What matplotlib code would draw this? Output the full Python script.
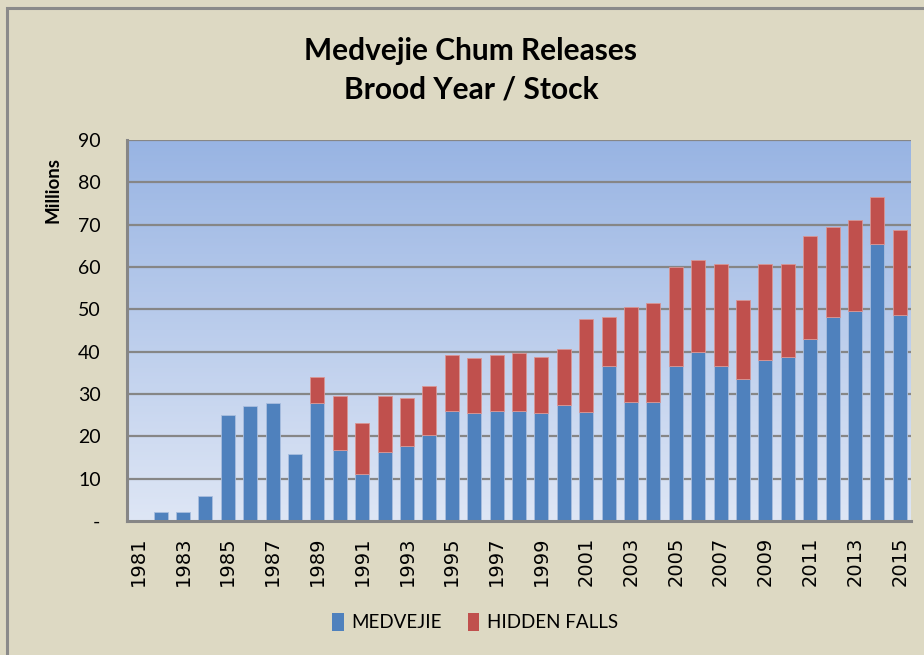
import numpy as np
import matplotlib.pyplot as plt
from matplotlib.colors import LinearSegmentedColormap
from matplotlib.patches import Rectangle

# dados (milhoes)
years = list(range(1981, 2016))
medvejie = [0, 2.2, 2.2, 5.8, 25.0, 27.2, 27.9, 15.9, 27.9, 16.7,
            11.2, 16.3, 17.6, 20.3, 26.1, 25.6, 26.1, 26.1, 25.6, 27.5,
            25.8, 36.5, 28.2, 28.2, 36.5, 39.9, 36.7, 33.6, 38.1, 38.8,
            43.1, 48.2, 49.5, 65.4, 48.7]
totals = [0, 2.2, 2.2, 5.8, 25.0, 27.2, 27.9, 15.9, 34.0, 29.6,
          23.1, 29.6, 29.0, 31.9, 39.3, 38.5, 39.1, 39.6, 38.8, 40.7,
          47.6, 48.2, 50.5, 51.6, 59.9, 61.7, 60.6, 52.1, 60.6, 60.6,
          67.3, 69.4, 71.0, 76.6, 68.8]
hidden_falls = [round(t - m, 1) for t, m in zip(totals, medvejie)]
yticks = [0, 10, 20, 30, 40, 50, 60, 70, 80, 90]
ytick_labels = ["-"] + [str(v) for v in yticks[1:]]

bg = "#DDD9C3"
blue = "#4F81BD"
red = "#C0504D"
grid_gray = "#868686"

fig = plt.figure(figsize=(9.24, 6.55), dpi=100, facecolor=bg)
ax = fig.add_axes([127/924, 1 - 521/655, (911-127)/924, (521-140)/655])
ax.set_facecolor(bg)

# moldura do grafico
fig.patches.append(Rectangle((7/924, -0.05), 1.2, 1 - 7.5/655 + 0.05, transform=fig.transFigure,
                             fill=False, edgecolor="#8A8A8A", linewidth=2.2, zorder=0))

# fundo em degrade
cmap = LinearSegmentedColormap.from_list("grad", ["#DEE6F5", "#98B4E3"])
grad = np.linspace(0, 1, 256).reshape(-1, 1)
x = np.arange(len(years))
ax.imshow(grad, aspect="auto", cmap=cmap, origin="lower",
          extent=[-0.5, len(years) - 0.5, 0, 90], zorder=0)

for v in yticks[1:]:
    ax.axhline(v, color=grid_gray, linewidth=1.6, zorder=1)

blue_edges = ["#A9BEDF" if v > 0 else "none" for v in medvejie]
red_edges = ["#D99694" if v > 0 else "none" for v in hidden_falls]
ax.bar(x, medvejie, width=0.62, color=blue, edgecolor=blue_edges, linewidth=0.6,
       label="MEDVEJIE", zorder=2)
ax.bar(x, hidden_falls, width=0.62, bottom=medvejie, color=red, edgecolor=red_edges,
       linewidth=0.6, label="HIDDEN FALLS", zorder=2)

ax.set_xlim(-0.5, len(years) - 0.5)
ax.set_ylim(0, 90)
ax.set_yticks(yticks)
ax.set_yticklabels(ytick_labels, fontfamily="Lato", fontsize=14)
ax.set_xticks(x[::2])
ax.set_xticklabels([str(y) for y in years[::2]], rotation=90, fontfamily="DejaVu Sans",
                   fontsize=14)
ax.tick_params(length=0, pad=11)
ax.tick_params(axis="y", pad=19)

for s in ["top", "right"]:
    ax.spines[s].set_visible(False)
for s in ["left", "bottom"]:
    ax.spines[s].set_color(grid_gray)
    ax.spines[s].set_linewidth(2.2)
    ax.spines[s].set_zorder(3)

ax.set_ylabel("Millions", fontfamily="Lato", fontweight="bold", fontsize=13.5)
ax.yaxis.set_label_coords(-0.083, 0.87)

fig.text(471/924, 1 - 70/655, "Medvejie Chum Releases\nBrood Year / Stock", ha="center",
         va="center", fontfamily="Lato", fontweight="bold", fontsize=21.5, linespacing=1.45)

leg = fig.legend(loc="center", bbox_to_anchor=(475/924, 1 - 622/655), ncol=2, frameon=False,
                 prop={"family": "Lato", "size": 13.5}, handlelength=0.6, handleheight=1.1,
                 handletextpad=0.4, columnspacing=1.4)

fig.savefig("out.png", dpi=100, facecolor=bg)
